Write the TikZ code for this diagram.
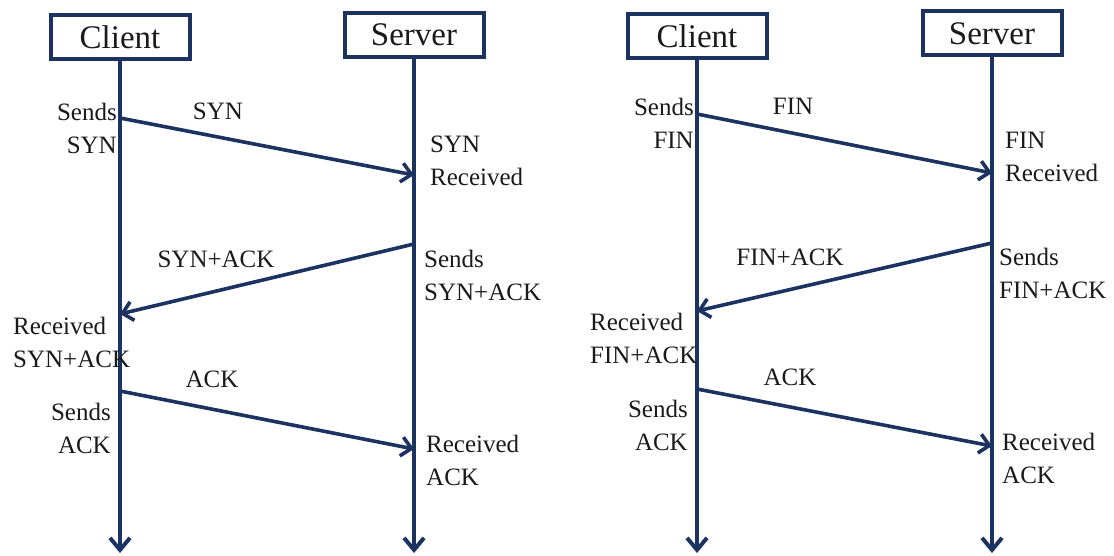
\documentclass[tikz,border=0pt]{standalone}
\usepackage{fontspec}
\setmainfont{Liberation Serif}
\usetikzlibrary{arrows.meta}
\definecolor{navy}{HTML}{1C3260}
\definecolor{ink}{HTML}{1A1A1A}
\begin{document}
\begin{tikzpicture}[x=1pt,y=-1pt,
  actor/.style={draw=navy, line width=4pt, minimum width=139pt, minimum height=44pt, inner sep=0pt, font=\fontsize{33}{36}\selectfont, text=ink},
  life/.style={draw=navy, line width=4pt, -{Straight Barb[length=12pt,width=20pt]}},
  msg/.style={draw=navy, line width=3.6pt, -{Straight Barb[length=10pt,width=19pt]}},
  lbl/.style={inner sep=0pt, font=\fontsize{25}{33}\selectfont, text=ink},
]
\useasboundingbox (0,0) rectangle (1114,556);

% ---------- left: connection setup ----------
\node[actor] (c1) at (120,37.5) {Client};
\node[actor] (sv1) at (414,35) {Server};
\coordinate (c1end) at (120,553);
\coordinate (sv1end) at (414,553);
\draw[life] (c1.south) -- (c1end);
\draw[life] (sv1.south) -- (sv1end);

\coordinate (a1s) at (120,118);
\coordinate (a1e) at (414,175);
\coordinate (a2s) at (414,244);
\coordinate (a2e) at (120,314);
\coordinate (a3s) at (120,391);
\coordinate (a3e) at (414,449);
\draw[msg] (a1s) -- (a1e);
\draw[msg] (a2s) -- (a2e);
\draw[msg] (a3s) -- (a3e);

\node[lbl, align=right, anchor=east] (l1) at (117,128.5) {Sends\\SYN};
\node[lbl] (m1) at (218,111) {SYN};
\node[lbl, align=left, anchor=west] (r1) at (430,160.5) {SYN\\Received};
\node[lbl] (m2) at (216,259) {SYN+ACK};
\node[lbl, align=left, anchor=west] (r2) at (424,275.5) {Sends\\SYN+ACK};
\node[lbl, align=left, anchor=west] (l2) at (13,342) {Received\\SYN+ACK};
\node[lbl] (m3) at (212,379) {ACK};
\node[lbl, align=right, anchor=east] (l3) at (111,428) {Sends\\ACK};
\node[lbl, align=left, anchor=west] (r3) at (426,460.5) {Received\\ACK};

% ---------- right: connection teardown ----------
\node[actor] (c2) at (697,36.5) {Client};
\node[actor] (sv2) at (992,33.5) {Server};
\coordinate (c2end) at (697,553);
\coordinate (sv2end) at (992,553);
\draw[life] (c2.south) -- (c2end);
\draw[life] (sv2.south) -- (sv2end);

\coordinate (b1s) at (697,114);
\coordinate (b1e) at (992,173);
\coordinate (b2s) at (992,243);
\coordinate (b2e) at (697,311);
\coordinate (b3s) at (697,389);
\coordinate (b3e) at (992,446);
\draw[msg] (b1s) -- (b1e);
\draw[msg] (b2s) -- (b2e);
\draw[msg] (b3s) -- (b3e);

\node[lbl, align=right, anchor=east] (l4) at (694,123.5) {Sends\\FIN};
\node[lbl] (m4) at (793,106) {FIN};
\node[lbl, align=left, anchor=west] (r4) at (1005,157) {FIN\\Received};
\node[lbl] (m5) at (790,257) {FIN+ACK};
\node[lbl, align=left, anchor=west] (r5) at (999,273.5) {Sends\\FIN+ACK};
\node[lbl, align=left, anchor=west] (l5) at (590,338) {Received\\FIN+ACK};
\node[lbl] (m6) at (790,377) {ACK};
\node[lbl, align=right, anchor=east] (l6) at (688,425.5) {Sends\\ACK};
\node[lbl, align=left, anchor=west] (r6) at (1002,458) {Received\\ACK};
\end{tikzpicture}
\end{document}
